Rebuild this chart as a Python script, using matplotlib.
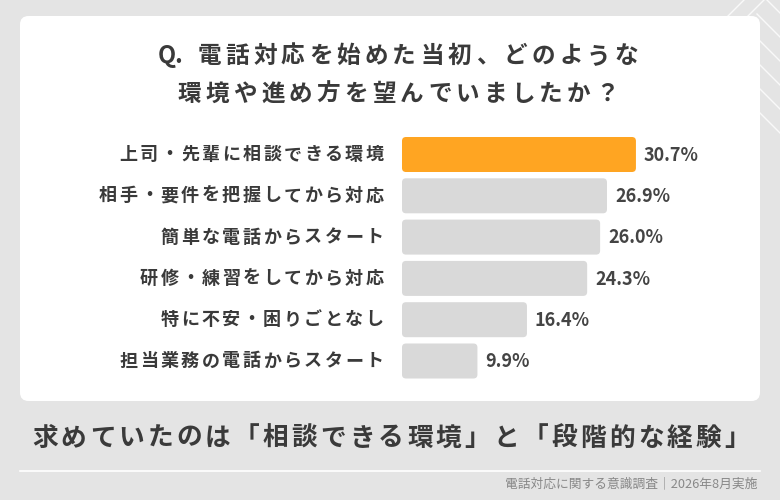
import re

import matplotlib
matplotlib.use('Agg')
import matplotlib.pyplot as plt
from matplotlib.patches import FancyBboxPatch
from matplotlib.lines import Line2D
from matplotlib.font_manager import FontProperties

plt.rcParams['font.family'] = ['Noto Sans CJK JP', 'DejaVu Sans']

# data
categories = ['上司・先輩に相談できる環境', '相手・要件を把握してから対応', '簡単な電話からスタート',
              '研修・練習をしてから対応', '特に不安・困りごとなし', '担当業務の電話からスタート']
values = [30.7, 26.9, 26.0, 24.3, 16.4, 9.9]
highlight = 0

title_lines = ['Q. 電話対応を始めた当初、どのような', '環境や進め方を望んでいましたか？']
summary = '求めていたのは「相談できる環境」と「段階的な経験」'
footer = '電話対応に関する意識調査｜2026年8月実施'

W, H = 780, 500
BG = '#e4e4e4'
TEXT = '#3a3a3a'
ORANGE = '#ffa522'
GREY = '#d9d9d9'

fig = plt.figure(figsize=(W / 100, H / 100), dpi=100, facecolor=BG)
renderer = fig.canvas.get_renderer()


def px(x, y):
    # pixel (from top-left) -> figure fraction
    return x / W, 1 - y / H


def spaced_text(x, y, s, size, track, ha='left', **kw):
    """Draw s piece by piece with extra tracking (pixels) between CJK glyphs;
    runs of ASCII letters/digits/punct stay together."""
    prop = FontProperties(family=['Noto Sans CJK JP', 'DejaVu Sans'],
                          size=size, weight=kw.get('fontweight', 'normal'))
    tokens = re.findall(r'[!-~]+| |.', s)
    widths = [renderer.get_text_width_height_descent(t, prop, ismath=False)[0]
              if t != ' ' else size * 100 / 72 * 0.25 for t in tokens]
    total = sum(widths) + track * (len(tokens) - 1)
    if ha == 'center':
        x0 = x - total / 2
    elif ha == 'right':
        x0 = x - total
    else:
        x0 = x
    for t, w in zip(tokens, widths):
        if t != ' ':
            fx, fy = px(x0, y)
            fig.text(fx, fy, t, ha='left', va='center', fontsize=size, **kw)
        x0 += w + track


# decorative chevrons in the top-right corner
for k in range(6):
    y0 = -10 + k * 24
    xa, ya = px(757, y0)
    xb, yb = px(800, y0 + 43)
    fig.add_artist(Line2D([xa, xb], [ya, yb], color='white', lw=1.0, alpha=0.8))
for k in range(2):
    xa, ya = px(728 + k * 20, 16)
    xb, yb = px(757 + k * 20, -13)
    fig.add_artist(Line2D([xa, xb], [ya, yb], color='white', lw=1.0, alpha=0.8))

# white card
cx0, cy0 = px(20, 401)
cx1, cy1 = px(760, 16)
card = FancyBboxPatch((cx0, cy0), cx1 - cx0, cy1 - cy0,
                      boxstyle='round,pad=0,rounding_size=0.011',
                      mutation_aspect=W / H, transform=fig.transFigure,
                      facecolor='white', edgecolor='none', zorder=0)
fig.add_artist(card)

for line, ty in zip(title_lines, [56, 94]):
    spaced_text(398, ty, line, 17, 4.2, ha='center', fontweight='bold', color=TEXT)

# bar axes: x=0 at 402px, 7.62 px per percent; rows 41.3 px apart
px_per_x = 7.62
px_per_row = 41.3
ax_left, ax_top = 402, 154.5 - px_per_row / 2
xmax = 45
ax = fig.add_axes([ax_left / W, 1 - (ax_top + 6 * px_per_row) / H,
                   xmax * px_per_x / W, 6 * px_per_row / H])
ax.set_xlim(0, xmax)
ax.set_ylim(5.5, -0.5)
ax.axis('off')

bar_h = 35 / px_per_row
r = 4 / px_per_x
for i, v in enumerate(values):
    color = ORANGE if i == highlight else GREY
    patch = FancyBboxPatch((0, i - bar_h / 2), v, bar_h,
                           boxstyle=f'round,pad=0,rounding_size={r}',
                           mutation_aspect=px_per_x / px_per_row,
                           facecolor=color, edgecolor='none')
    ax.add_patch(patch)
    ax.text(v + 8 / px_per_x, i + 0.02, f'{v:.1f}%', ha='left', va='center',
            fontsize=13, fontweight='bold', color='#444444')
    # category label, right-aligned 19px left of the bar start
    label_y = ax_top + (i + 0.5) * px_per_row
    spaced_text(383.5, label_y, categories[i], 13, 2.5, ha='right',
                fontweight='bold', color=TEXT)

spaced_text(32, 438, summary, 18.5, 3.1, fontweight='bold', color=TEXT)

xa, ya = px(20, 471)
xb, _ = px(760, 471)
fig.add_artist(Line2D([xa, xb], [ya, ya], color='white', lw=1.2))

fx, fy = px(757, 484)
fig.text(fx, fy, footer, ha='right', va='center', fontsize=9.2, color='#888888')

fig.savefig('out.png', dpi=100, facecolor=BG)
